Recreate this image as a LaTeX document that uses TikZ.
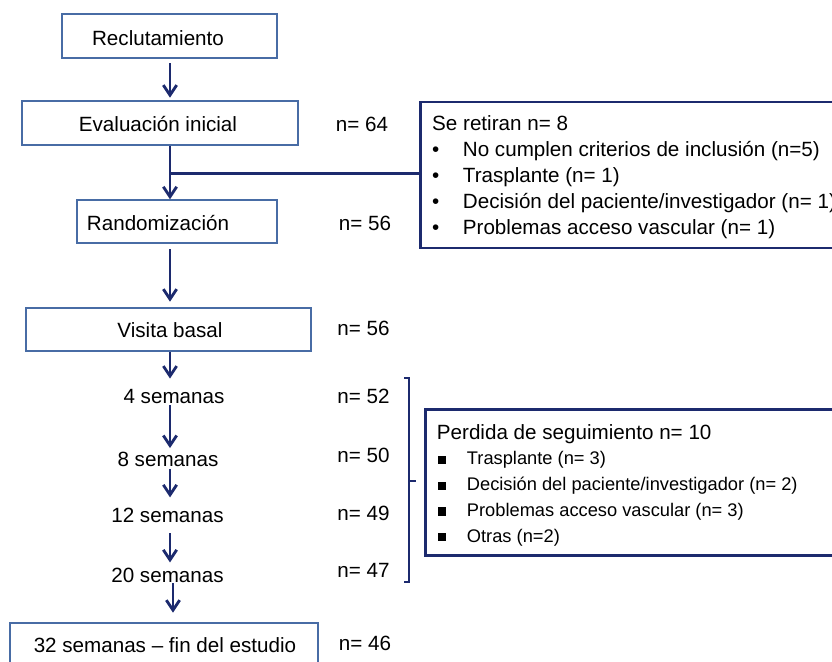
\documentclass[tikz,border=0pt]{standalone}
\usepackage{fontspec}
\setmainfont{Liberation Sans}
\usetikzlibrary{arrows.meta}
\definecolor{navy}{RGB}{28,42,110}
\definecolor{boxblue}{RGB}{72,108,165}
\begin{document}
\begin{tikzpicture}[x=0.03cm, y=-0.03cm,
  box/.style={draw=boxblue, line width=1.7pt, minimum height=1.31cm},
  side/.style={draw=navy, line width=2.4pt, minimum height=4.38cm},
  lbl/.style={anchor=base, inner sep=0pt, font=\fontsize{17.6}{21.8}\selectfont},
  link/.style={draw=navy, line width=2.4pt},
  arr/.style={link, -{Straight Barb[length=0.3cm, width=0.4cm]}}]
\clip (0,0) rectangle (832,661);
\coordinate (axis) at (170,0);
\coordinate (axisb) at (173,0);
\coordinate (split) at (170,173.5);
\node (rec) at (169.3,36.3) [box, minimum width=6.44cm, minimum height=1.32cm]{};
\node (eval) at (160,122.8) [box, minimum width=8.28cm]{};
\node (rand) at (176.8,221.8) [box, minimum width=5.99cm, minimum height=1.29cm]{};
\node (vis) at (168.3,329.5) [box, minimum width=8.54cm]{};
\node (fin) at (164,644.5) [box, minimum width=9.24cm]{};
\node (trec) at (158,45) [lbl]{Reclutamiento};
\node (teval) at (158,131.5) [lbl]{Evaluación inicial};
\node (trand) at (158,230) [lbl]{Randomización};
\node (tvis) at (170,337) [lbl]{Visita basal};
\node (w4) at (174,403) [lbl]{4 semanas};
\node (w8) at (168,466) [lbl]{8 semanas};
\node (w12) at (167.5,522) [lbl]{12 semanas};
\node (w20) at (167.5,582) [lbl]{20 semanas};
\node (tfin) at (165,652) [lbl]{32 semanas – fin del estudio};
\node (n64) at (362,131) [lbl]{n= 64};
\node (n56a) at (365,230) [lbl]{n= 56};
\node (n56b) at (363.5,335) [lbl]{n= 56};
\node (n52) at (363.5,403) [lbl]{n= 52};
\node (n50) at (363.5,462) [lbl]{n= 50};
\node (n49) at (363.5,520) [lbl]{n= 49};
\node (n47) at (363.5,577) [lbl]{n= 47};
\node (n46) at (365,650) [lbl]{n= 46};
\node (ret) at (650.25,175) [side, minimum width=13.79cm]{};
\node (lost) at (652.75,482.5) [side, minimum width=13.64cm]{};
\node (tret) at (432,130.5) [anchor=base west, inner sep=0pt, font=\fontsize{17.6}{22.2}\selectfont]{%
\begin{tabular}[t]{@{}l@{}}
Se retiran n= 8\\
\makebox[0.92cm][l]{\textbullet}No cumplen criterios de inclusión (n=5)\\
\makebox[0.92cm][l]{\textbullet}Trasplante (n= 1)\\
\makebox[0.92cm][l]{\textbullet}Decisión del paciente/investigador (n= 1)\\
\makebox[0.92cm][l]{\textbullet}Problemas acceso vascular (n= 1)
\end{tabular}};
\node (tlost) at (436.7,439) [anchor=base west, inner sep=0pt, font=\fontsize{15.6}{22}\selectfont]{%
\begin{tabular}[t]{@{}l@{}}
{\fontsize{17.6}{22}\selectfont Perdida de seguimiento n= 10}\\
\makebox[0.9cm][l]{\hspace{0.03cm}\rule[0.02cm]{0.25cm}{0.25cm}}Trasplante (n= 3)\\
\makebox[0.9cm][l]{\hspace{0.03cm}\rule[0.02cm]{0.25cm}{0.25cm}}Decisión del paciente/investigador (n= 2)\\
\makebox[0.9cm][l]{\hspace{0.03cm}\rule[0.02cm]{0.25cm}{0.25cm}}Problemas acceso vascular (n= 3)\\
\makebox[0.9cm][l]{\hspace{0.03cm}\rule[0.02cm]{0.25cm}{0.25cm}}Otras (n=2)
\end{tabular}};
\draw[arr, shorten <=0.12cm, shorten >=0.07cm](rec.south -| axis) -- (eval.north -| axis);
\draw[arr](eval.south -| axis) -- (rand.north -| axis);
\draw[link](split) -- (split -| ret.west);
\draw[arr, shorten <=0.15cm, shorten >=0.15cm](rand.south -| axis) -- (vis.north -| axis);
\draw[arr, shorten >=0.3cm](vis.south -| axis) -- (w4.north -| axis);
\draw[arr, shorten <=0.06cm, shorten >=0.1cm](w4.south -| axis) -- (w8.north -| axis);
\draw[arr, shorten <=0.09cm, shorten >=0.3cm](w8.south -| axis) -- (w12.north -| axis);
\draw[arr, shorten <=0.33cm, shorten >=0.15cm](w12.south -| axis) -- (w20.north -| axis);
\draw[arr, shorten <=0.03cm, shorten >=0.27cm](w20.south -| axisb) -- (fin.north -| axisb);
\draw[navy, line width=2pt](404,378) -- (409,378) -- (409,582) -- (404,582);
\draw[navy, line width=2pt](409,481) -- (416,481);
\end{tikzpicture}
\end{document}
